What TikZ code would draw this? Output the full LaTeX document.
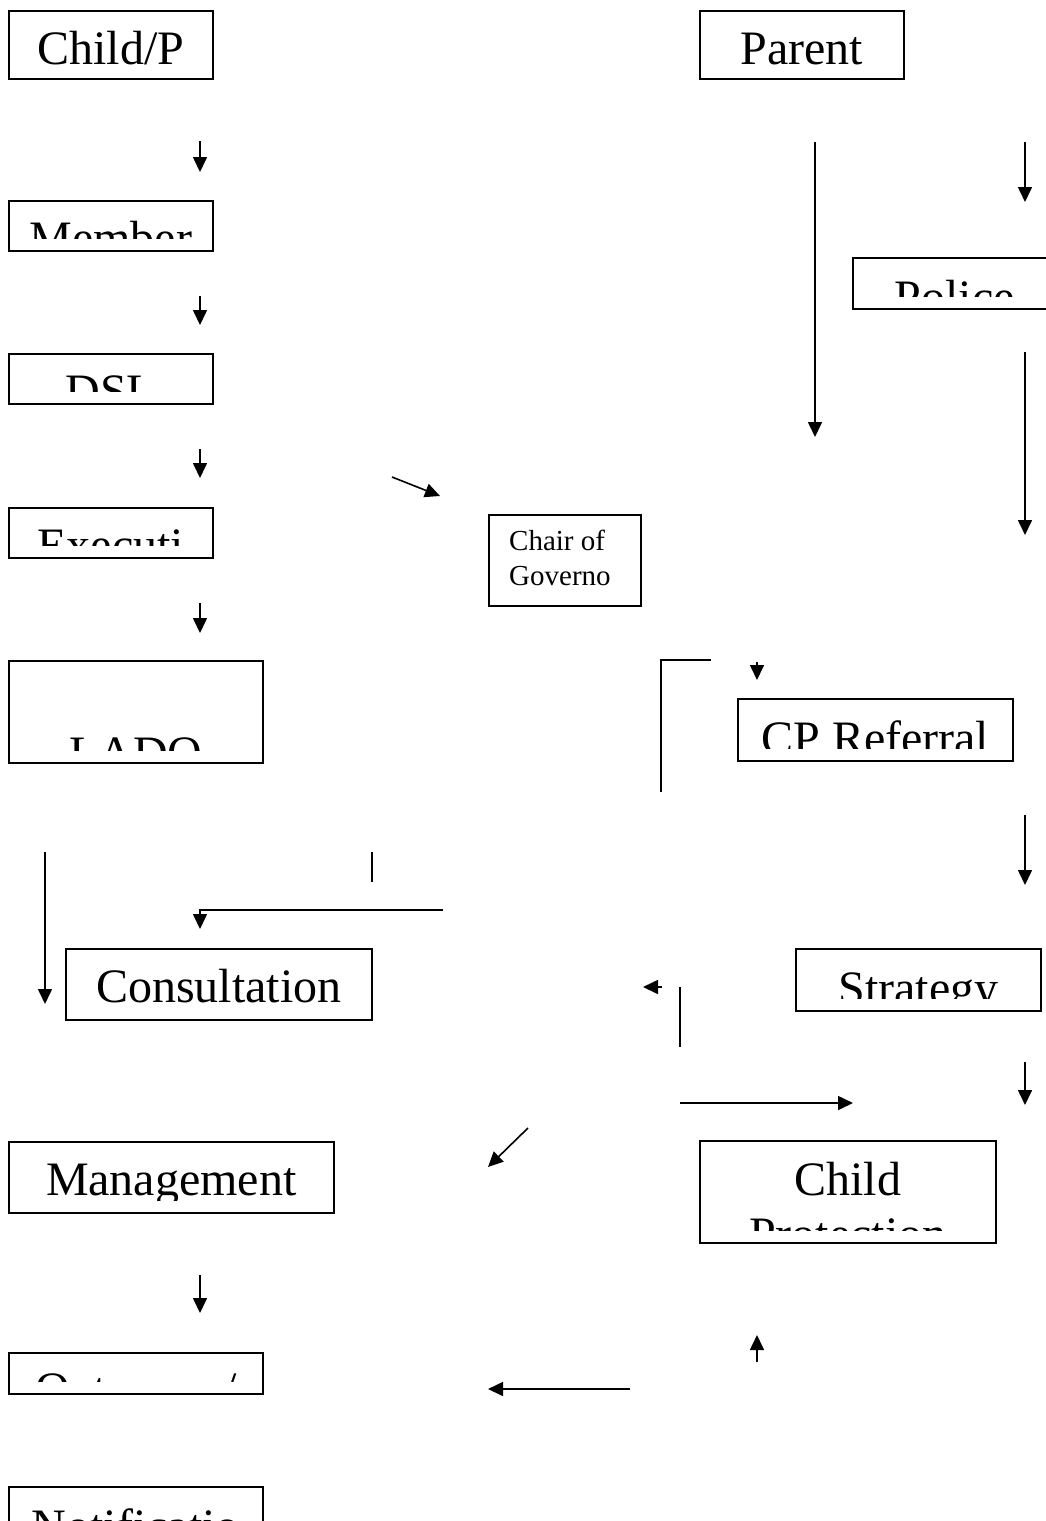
\documentclass[tikz,border=0pt]{standalone}
\usepackage{fontspec}
\setmainfont{Liberation Serif}
\usetikzlibrary{arrows.meta}
\tikzset{
box/.style={ % frame of each text box
draw,
line width=1.6pt,
anchor=north west,
inner sep=0pt},
big/.style={font=\fontsize{48}{55}\selectfont},
small/.style={font=\fontsize{29}{35}\selectfont},
cut text/.style 2 args={ % text cut off at the inner bottom margin
path picture={
\clip ([yshift=12pt]path picture bounding box.south west) rectangle (path picture bounding box.north east);
\node[big, anchor=base, align=center, inner sep=0pt, yshift=-#2] at (path picture bounding box.north) {#1};}},
arr/.style={line width=1.6pt, -{Triangle[length=15pt,width=14pt]}},
bare/.style={line width=1.6pt}}

\begin{document}
\begin{tikzpicture}[x=1pt, y=-1pt]
\useasboundingbox (0,0) rectangle (1046,1521);
\clip (0,0) rectangle (1046,1521);
% left column
\node[box, minimum width=204pt, minimum height=68pt, cut text={Child/P}{54pt}] (childp) at (8,10) {};
\node[box, minimum width=204pt, minimum height=50pt, cut text={Member}{54pt}] (member) at (8,200) {};
\node[box, minimum width=204pt, minimum height=50pt, cut text={DSL}{54pt}] (dsl) at (8,353) {};
\node[box, minimum width=204pt, minimum height=50pt, cut text={Executi}{54pt}] (exec) at (8,507) {};
\node[box, minimum width=254pt, minimum height=102pt, cut text={LADO}{109pt}] (lado) at (8,660) {};
\node[box, minimum width=306pt, minimum height=71pt, cut text={Consultation}{54pt}] (consult) at (65,948) {};
\node[box, minimum width=325pt, minimum height=71pt, cut text={Management}{54pt}] (mgmt) at (8,1141) {};
\node[box, minimum width=254pt, minimum height=41pt, cut text={Outcome /}{53pt}] (outcome) at (8,1352) {};
\node[box, minimum width=254pt, minimum height=70pt, cut text={Notificatio}{56pt}] (notif) at (8,1486) {};
% middle
\node[box, minimum width=152pt, minimum height=91pt] (chair) at (488,514) {};
\node[small, anchor=north west, align=left, inner sep=0pt] (chairtext) at (509,530) {Chair of\\Governo};
% right column
\node[box, minimum width=204pt, minimum height=68pt, cut text={Parent}{54pt}] (parent) at (699,10) {};
\node[box, minimum width=204pt, minimum height=51pt, cut text={Police}{56pt}] (police) at (852,257) {};
\node[box, minimum width=275pt, minimum height=62pt, cut text={CP Referral}{56pt}] (cpref) at (737,698) {};
\node[box, minimum width=245pt, minimum height=62pt, cut text={Strategy}{56pt}] (strategy) at (795,948) {};
\node[box, minimum width=296pt, minimum height=102pt, cut text={Child\\Protection}{110pt}] (cpconf) at (699,1140) {};
% single arrows
\foreach \n/\xa/\ya/\xb/\yb in {1/200/141/200/172, 2/200/296/200/325, 3/200/449/200/478,
4/200/603/200/633, 5/392/477/440/496, 6/815/142/815/437, 7/1025/142/1025/202,
8/1025/352/1025/535, 9/757/662/757/680, 10/1025/815/1025/885, 11/45/852/45/1004,
12/662/987/643/987, 13/680/1103/853/1103, 14/1025/1062/1025/1105, 15/528/1128/488/1167,
16/200/1275/200/1313, 17/757/1362/757/1335, 18/630/1389/488/1389}
{
\coordinate (s\n) at (\xa,\ya);
\coordinate (t\n) at (\xb,\yb);
\draw[arr] (s\n) -- (t\n);
}
% lines and elbows
\coordinate (k1) at (443,910);
\coordinate (k2) at (200,929);
\draw[arr] (k1) -| (k2);
\coordinate (m1) at (711,660);
\coordinate (m2) at (661,792);
\draw[bare] (m1) -| (m2);
\coordinate (l1) at (372,852);
\coordinate (l2) at (372,882);
\draw[bare] (l1) -- (l2);
\coordinate (l3) at (680,987);
\coordinate (l4) at (680,1047);
\draw[bare] (l3) -- (l4);
\end{tikzpicture}
\end{document}
